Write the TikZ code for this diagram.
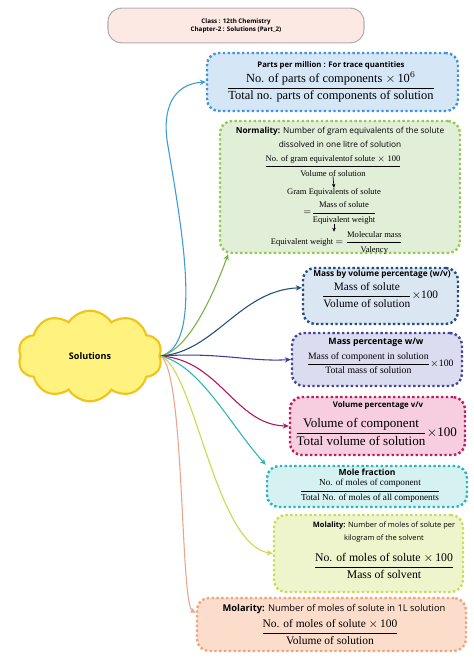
\RequirePackage{fix-cm}
\documentclass[tikz,border=0pt]{standalone}
\usepackage{amsmath}
\usepackage{fontspec}
\setmainfont{Liberation Serif}
\setsansfont{Open Sans}
\usetikzlibrary{shapes.symbols,fit,arrows.meta}
\newcommand\fr[2]{$\dfrac{\text{#1}}{\text{#2}}$}
\newcommand\fsz[1]{\fontsize{#1}{#1}\selectfont}
\definecolor{ppmD}{HTML}{3F95D8}\definecolor{ppmF}{HTML}{D5E6F7}
\definecolor{norD}{HTML}{94C955}\definecolor{norF}{HTML}{E2EFD8}
\definecolor{mbvD}{HTML}{1F4E84}\definecolor{mbvF}{HTML}{DAE6F2}
\definecolor{mpD}{HTML}{45459E}\definecolor{mpF}{HTML}{DCDCF0}
\definecolor{vpD}{HTML}{BE1A5C}\definecolor{vpF}{HTML}{F7CDE0}
\definecolor{mfD}{HTML}{29B6BE}\definecolor{mfF}{HTML}{D6F1F2}
\definecolor{mlD}{HTML}{CCDD55}\definecolor{mlF}{HTML}{EEF5CC}
\definecolor{mrD}{HTML}{EFA57A}\definecolor{mrF}{HTML}{FCDDCB}
\definecolor{cPPM}{HTML}{3C9AD6}\definecolor{cNOR}{HTML}{76B041}
\definecolor{cMBV}{HTML}{1F4E79}\definecolor{cMP}{HTML}{3D3D96}
\definecolor{cVP}{HTML}{B0145A}\definecolor{cMF}{HTML}{2BB5B8}
\definecolor{cML}{HTML}{C9D94B}\definecolor{cMR}{HTML}{E8A58A}
\definecolor{titF}{HTML}{FDE9E3}\definecolor{titD}{HTML}{B0B0B0}
\definecolor{cloudF}{HTML}{FFF27F}\definecolor{cloudD}{HTML}{F0C419}
\tikzset{
  dbox/.style 2 args={draw=#1, fill=#2, line width=1.8pt, dash pattern=on 1.8pt off 1.8pt, rounded corners=9pt, inner sep=0pt},
  conn/.style={draw=#1, line width=0.8pt, -{Stealth[length=4.5pt,width=4pt]}},
  ttl/.style={font=\sffamily\bfseries\fsz{#1}, inner sep=0pt},
  sft/.style={font=\sffamily\fsz{#1}, inner sep=0pt, align=center},
  frc/.style={font=\fsz{#1}, inner sep=0pt},
  inarr/.style={line width=0.5pt, -{Stealth[length=3pt,width=2.6pt]}}
}
\begin{document}
\begin{tikzpicture}[x=0.75pt,y=-0.75pt]
\fill[white] (0,0) rectangle (474,671);
\useasboundingbox (0,0) rectangle (474,671);
% title
\node[draw=titD, fill=titF, line width=0.8pt, rounded corners=10pt, minimum width=192pt, minimum height=26pt, align=center, font=\sffamily\bfseries\fsz{4.7}, inner sep=0pt] (title) at (236,25.5) {Class : 12th Chemistry\\[1.2pt]Chapter-2 : Solutions (Part\_2)};
% cloud
\node[cloud, cloud puffs=10, cloud puff arc=115, aspect=1.6, draw=cloudD, fill=cloudF, line width=1.6pt, minimum width=108pt, minimum height=68pt, inner sep=0pt, font=\sffamily\bfseries\fsz{6.8}] (sol) at (90,356) {Solutions};
% boxes
\node[dbox={ppmD}{ppmF}, fit={(207,53) (458,111)}] (ppm) {};
\node[dbox={norD}{norF}, fit={(220,121) (460,253)}] (nor) {};
\node[dbox={mbvD}{mbvF}, fit={(303,268) (458,324)}] (mbv) {};
\node[dbox={mpD}{mpF}, fit={(292,333) (462,386)}] (mp) {};
\node[dbox={vpD}{vpF}, fit={(290,397) (465,455)}] (vp) {};
\node[dbox={mfD}{mfF}, fit={(267,466) (467,507)}] (mf) {};
\node[dbox={mlD}{mlF}, fit={(274,515) (463,592)}] (ml) {};
\node[dbox={mrD}{mrF}, fit={(197,598) (466,651)}] (mr) {};
% PPM
\node[ttl=5.8] (ppmT) at (331,65) {Parts per million : For trace quantities};
\node[frc=9.3] (ppmF) at (331,87) {\fr{No. of parts of components $\times$\,10$^{6}$}{Total no. parts of components of solution}};
% Normality
\node[sft=6.2] (norT) at (340,137.5) {\textbf{Normality:} Number of gram equivalents of the solute\\[3pt]dissolved in one litre of solution};
\node[frc=6.4] (nf1) at (333,166) {\fr{No. of gram equivalentof solute $\times$ 100}{Volume of solution}};
\node[frc=6.4] (ge) at (334,192) {Gram Equivalents of solute};
\node[frc=6.4] (nf2) at (340,213) {$=$\fr{Mass of solute}{Equivalent weight}};
\node[frc=6.4] (nf3) at (337,243) {Equivalent weight $=$ \fr{Molecular mass}{Valency}};
\draw[inarr] (nf1.south) -- (ge.north);
\draw[inarr] (nf2.south -| ge) -- (nf3.north -| ge);
% Mass by volume
\node[ttl=6.2] (mbvT) at (382,274) {Mass by volume percentage (w/v)};
\node[frc=8.5] (mbvF) at (380,295) {\fr{Mass of solute}{Volume of solution}$\times$100};
% Mass percentage
\node[ttl=6.6] (mpT) at (376,342) {Mass percentage w/w};
\node[frc=7.3] (mpF) at (380,363) {\fr{Mass of component in solution}{Total mass of solution}$\times$100};
% Volume percentage
\node[ttl=5.9] (vpT) at (378,405) {Volume percentage v/v};
\node[frc=9.8] (vpF) at (376,432) {\fr{Volume of component}{Total volume of solution}$\times$100};
% Mole fraction
\node[ttl=6.4] (mfT) at (367,472.5) {Mole fraction};
\node[frc=6.9] (mfF) at (370,491) {\fr{No. of moles of component}{Total No. of moles of all components}};
% Molality
\node[sft=5.6] (mlT) at (384,532) {\textbf{Molality:} Number of moles of solute per\\[2.5pt]kilogram of the solvent};
\node[frc=8.8] (mlF) at (384,566) {\fr{No. of moles of solute $\times$\,100}{Mass of solvent}};
% Molarity
\node[sft=7] (mrT) at (334,609) {\textbf{Molarity:} Number of moles of solute in 1L solution};
\node[frc=8.6] (mrF) at (330,632) {\fr{No. of moles of solute $\times$\,100}{Volume of solution}};
% connectors
\draw[conn=cPPM] (sol.east) .. controls (205,345) and (180,220) .. (167,140) .. controls (163,110) and (172,84) .. (ppm.west);
\draw[conn=cNOR] (sol.east) .. controls (190,350) and (215,290) .. (nor.211);
\draw[conn=cMBV] (sol.east) .. controls (215,352) and (240,290) .. (mbv.174);
\draw[conn=cMP] (sol.east) .. controls (220,352) and (250,362) .. (mp.west);
\draw[conn=cVP] (sol.east) .. controls (220,360) and (235,425) .. (vp.west);
\draw[conn=cMF] (sol.east) .. controls (200,365) and (230,425) .. (mf.north west);
\draw[conn=cML] (sol.east) .. controls (195,370) and (215,545) .. (ml.west);
\draw[conn=cMR] (sol.east) .. controls (185,370) and (180,605) .. (mr.175);
\end{tikzpicture}
\end{document}
